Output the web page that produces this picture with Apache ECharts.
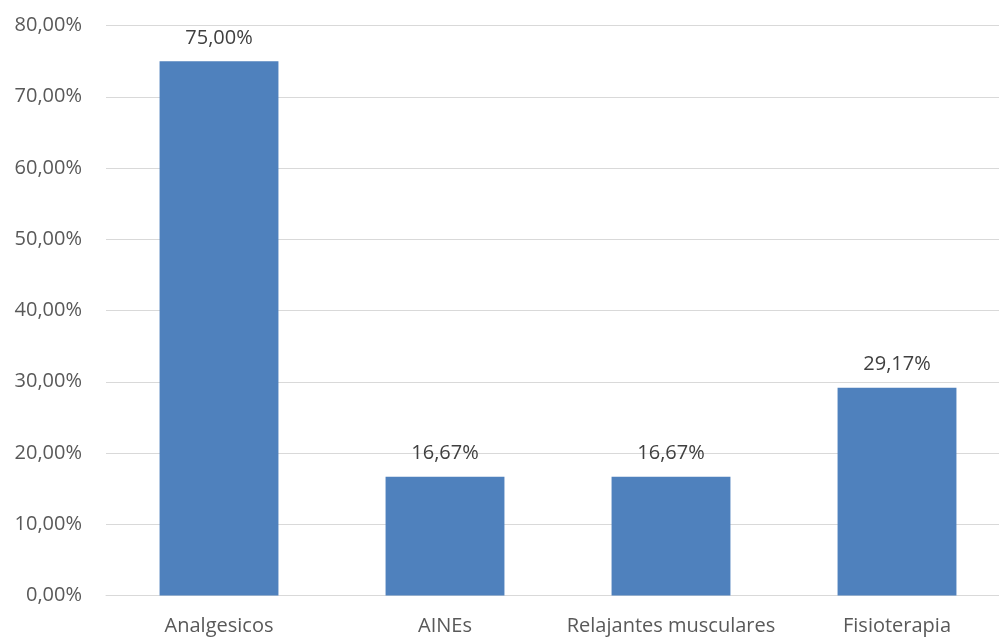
<!DOCTYPE html>
<html>
<head>
<meta charset="utf-8">
<script src="https://cdn.jsdelivr.net/npm/echarts@6/dist/echarts.min.js"></script>
<style>
  html, body { margin: 0; padding: 0; background: #ffffff; overflow: hidden; width: 999px; height: 638px; }
  /* canvas is a little wider than the page so the plot area runs past the right edge */
  #chart { width: 1010px; height: 638px; }
</style>
</head>
<body>
<div id="chart"></div>
<script>
// Treatment categories and their share of patients (%)
const categories = ['Analgesicos', 'AINEs', 'Relajantes musculares', 'Fisioterapia'];
const values = [75.00, 16.67, 16.67, 29.17];

// Value axis range and step (percent)
const yMin = 0;
const yMax = 80;
const yStep = 10;

const fmt = v => v.toFixed(2).replace('.', ',') + '%';
const font = '"Open Sans", "Noto Sans", sans-serif';

const chart = echarts.init(document.getElementById('chart'), null, { renderer: 'canvas' });
chart.setOption({
  animation: false,
  backgroundColor: '#ffffff',
  grid: { left: 106, top: 25.5, right: 0, bottom: 42.5, containLabel: false },
  xAxis: {
    type: 'category',
    data: categories,
    axisTick: { show: false },
    axisLine: { lineStyle: { color: '#d9d9d9', width: 1 } },
    axisLabel: { color: '#595959', fontSize: 20, fontFamily: font, margin: 21, interval: 0 }
  },
  yAxis: {
    type: 'value',
    min: yMin,
    max: yMax,
    interval: yStep,
    axisLine: { show: false },
    axisTick: { show: false },
    splitLine: { lineStyle: { color: '#d9d9d9', width: 1 } },
    axisLabel: { color: '#595959', fontSize: 20, fontFamily: font, margin: 24, formatter: fmt }
  },
  series: [{
    type: 'bar',
    data: values,
    barWidth: '52.6%',
    itemStyle: { color: '#4f81bd' },
    label: {
      show: true,
      position: 'top',
      distance: 13,
      color: '#404040',
      fontSize: 20,
      fontFamily: font,
      formatter: p => fmt(p.value)
    }
  }]
});
</script>
</body>
</html>
